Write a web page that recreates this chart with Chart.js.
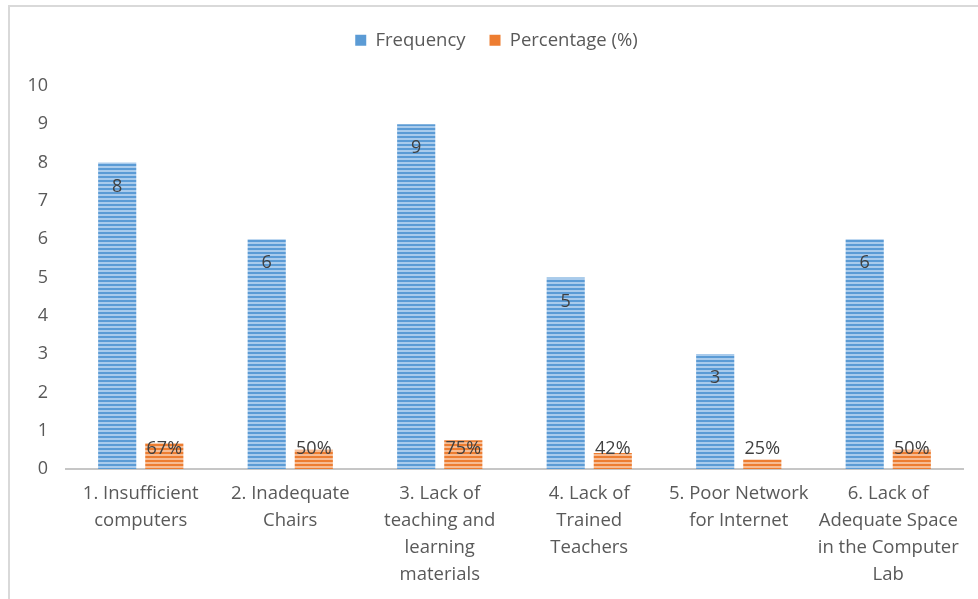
<!DOCTYPE html>
<html>
<head>
<meta charset="utf-8">
<script src="https://cdn.jsdelivr.net/npm/chart.js@4/dist/chart.umd.min.js"></script>
<style>
    html, body { margin: 0; padding: 0; background: #fff; }
    #wrap { position: relative; width: 978px; height: 599px; }
    #chartCanvas { position: absolute; left: 0; top: 0; }
    #frame {
        position: absolute; left: 8px; top: 5px; right: 0; bottom: 0;
        border-left: 2px solid #d9d9d9; border-top: 2px solid #d9d9d9;
        pointer-events: none;
    }
</style>
</head>
<body>
<div id="wrap">
    <canvas id="chartCanvas" width="978" height="599"></canvas>
    <div id="frame"></div>
</div>
<script>
const categories = [
    ['1. Insufficient', 'computers'],
    ['2. Inadequate', 'Chairs'],
    ['3. Lack of', 'teaching and', 'learning', 'materials'],
    ['4. Lack of', 'Trained', 'Teachers'],
    ['5. Poor Network', 'for Internet'],
    ['6. Lack of', 'Adequate Space', 'in the Computer', 'Lab']
];
const frequency = [8, 6, 9, 5, 3, 6];
const percentage = [0.67, 0.50, 0.75, 0.42, 0.25, 0.50];
const percentLabels = ['67%', '50%', '75%', '42%', '25%', '50%'];
const yTicks = [0, 1, 2, 3, 4, 5, 6, 7, 8, 9, 10];

const FONT = '"Open Sans", Lato, sans-serif';

function stripes(dark, light) {
    const c = document.createElement('canvas');
    c.width = 4;
    c.height = 4;
    const g = c.getContext('2d');
    g.fillStyle = light;
    g.fillRect(0, 0, 4, 4);
    g.fillStyle = dark;
    g.fillRect(0, 0, 4, 2);
    return g.createPattern(c, 'repeat');
}

const ctx = document.getElementById('chartCanvas').getContext('2d');
const bluePattern = stripes('#5B9BD5', '#A9CBEC');
const orangePattern = stripes('#ED7D31', '#F7BC93');

// value labels near the top inside each bar
const barLabels = {
    id: 'barLabels',
    afterDatasetsDraw(chart) {
        const c = chart.ctx;
        const base = chart.scales.y.getPixelForValue(0);
        c.save();
        c.font = '18px ' + FONT;
        c.fillStyle = '#404040';
        c.textAlign = 'center';
        c.textBaseline = 'middle';
        chart.data.datasets.forEach((ds, i) => {
            chart.getDatasetMeta(i).data.forEach((bar, j) => {
                const text = i === 0 ? String(frequency[j]) : percentLabels[j];
                const y = Math.min(bar.y + 24, base - 20);
                c.fillText(text, bar.x, y);
            });
        });
        c.restore();
    }
};

// fixed legend height, and legend centred a bit to the right like the original
const legendBox = {
    id: 'legendBox',
    beforeInit(chart) {
        const origFit = chart.legend.fit;
        chart.legend.fit = function () {
            origFit.bind(chart.legend)();
            this.height = 79;
        };
    },
    afterLayout(chart) {
        chart.legend.left += 15;
        chart.legend.right += 15;
    }
};

new Chart(ctx, {
    type: 'bar',
    data: {
        labels: categories,
        datasets: [{
            label: 'Frequency',
            data: frequency,
            backgroundColor: bluePattern,
            borderWidth: 0
        }, {
            label: 'Percentage (%)',
            data: percentage,
            backgroundColor: orangePattern,
            borderWidth: 0
        }]
    },
    options: {
        responsive: false,
        animation: false,
        categoryPercentage: 0.63,
        barPercentage: 0.81,
        layout: { padding: { top: 7, right: 15, left: 0, bottom: 0 } },
        plugins: {
            legend: {
                display: true,
                position: 'top',
                labels: {
                    color: '#595959',
                    font: { family: FONT, size: 18.5 },
                    boxWidth: 11,
                    boxHeight: 11,
                    padding: 24,
                    generateLabels(chart) {
                        return chart.data.datasets.map((ds, i) => ({
                            text: ds.label,
                            fillStyle: i === 0 ? '#5B9BD5' : '#ED7D31',
                            strokeStyle: 'transparent',
                            lineWidth: 0,
                            fontColor: '#595959',
                            datasetIndex: i
                        }));
                    }
                }
            },
            tooltip: { enabled: false }
        },
        scales: {
            x: {
                grid: { display: false, drawTicks: false },
                border: { display: true, color: '#c6c6c6', width: 2 },
                ticks: {
                    color: '#595959',
                    font: { family: FONT, size: 18.5, lineHeight: 1.46 },
                    padding: 11,
                    maxRotation: 0,
                    autoSkip: false
                },
                afterFit(scale) { scale.height = 130; }
            },
            y: {
                min: 0,
                max: 10,
                afterBuildTicks(scale) { scale.ticks = yTicks.map(v => ({ value: v })); },
                grid: { display: false, drawTicks: false },
                border: { display: false },
                ticks: {
                    color: '#595959',
                    font: { family: FONT, size: 18 },
                    padding: 18
                },
                afterFit(scale) { scale.width = 66; }
            }
        }
    },
    plugins: [barLabels, legendBox]
});
</script>
</body>
</html>
